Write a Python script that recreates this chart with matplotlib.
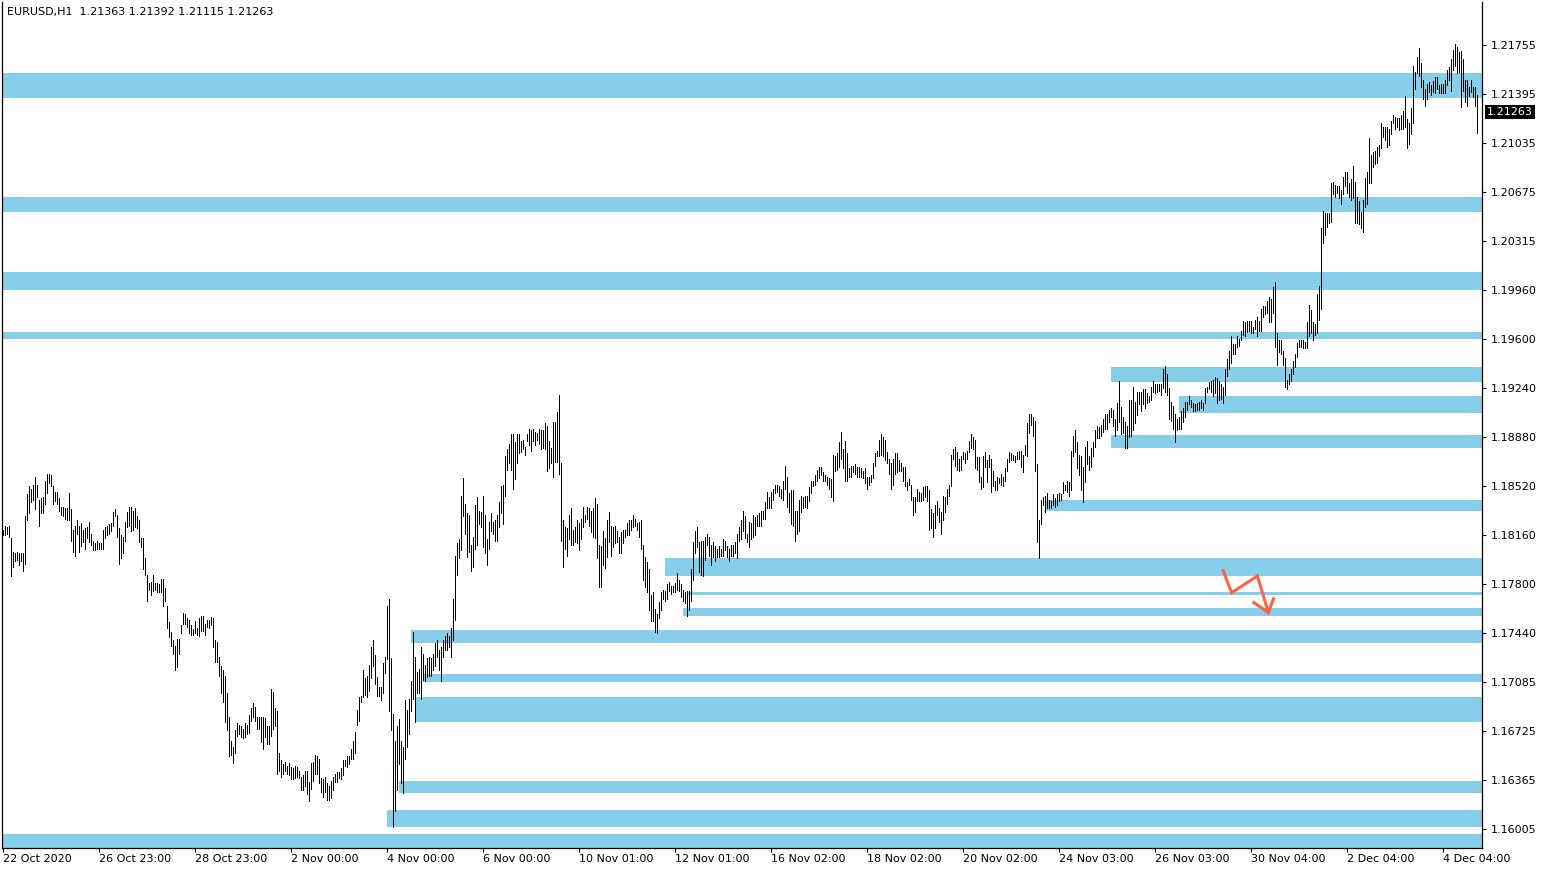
import numpy as np
import matplotlib
matplotlib.use("Agg")
import matplotlib.pyplot as plt
from matplotlib import transforms

# ---------------- data ----------------
symbol = "EURUSD,H1"
last_ohlc = [1.21363, 1.21392, 1.21115, 1.21263]

# H1 bars: highs and lows (oldest -> newest)
highs = [
    1.1820, 1.1823, 1.1822, 1.1823, 1.1814, 1.1804, 1.1803, 1.1804, 1.1803, 1.1803,
    1.1803, 1.1830, 1.1846, 1.1852, 1.1850, 1.1853, 1.1859, 1.1853, 1.1842, 1.1843,
    1.1844, 1.1856, 1.1861, 1.1861, 1.1860, 1.1852, 1.1848, 1.1848, 1.1843, 1.1837,
    1.1837, 1.1836, 1.1836, 1.1847, 1.1835, 1.1820, 1.1823, 1.1827, 1.1823, 1.1825,
    1.1820, 1.1821, 1.1822, 1.1826, 1.1817, 1.1812, 1.1810, 1.1812, 1.1810, 1.1810,
    1.1820, 1.1822, 1.1823, 1.1824, 1.1825, 1.1833, 1.1835, 1.1831, 1.1821, 1.1816,
    1.1815, 1.1826, 1.1833, 1.1837, 1.1837, 1.1834, 1.1836, 1.1830, 1.1827, 1.1814,
    1.1814, 1.1799, 1.1787, 1.1781, 1.1782, 1.1787, 1.1781, 1.1781, 1.1780, 1.1784,
    1.1784, 1.1777, 1.1764, 1.1752, 1.1745, 1.1739, 1.1735, 1.1740, 1.1740, 1.1750,
    1.1759, 1.1758, 1.1755, 1.1754,
    1.1750, 1.1747, 1.1753, 1.1748, 1.1755, 1.1757,
    1.1757, 1.1751, 1.1754, 1.1754, 1.1756, 1.1755, 1.1739, 1.1738, 1.1727, 1.1720,
    1.1717, 1.1713, 1.1700, 1.1683, 1.1665, 1.1661, 1.1673, 1.1678, 1.1677, 1.1676,
    1.1674, 1.1678, 1.1677, 1.1684, 1.1689, 1.1693, 1.1690, 1.1683, 1.1683, 1.1683,
    1.1683, 1.1682, 1.1676, 1.1676, 1.1703, 1.1701, 1.1689, 1.1687, 1.1656, 1.1651,
    1.1648, 1.1650, 1.1647, 1.1649, 1.1646, 1.1645, 1.1647, 1.1646, 1.1643, 1.1639,
    1.1640, 1.1643, 1.1643, 1.1635, 1.1649, 1.1650, 1.1655, 1.1654, 1.1652, 1.1638,
    1.1637, 1.1639, 1.1634, 1.1632, 1.1636, 1.1639, 1.1641, 1.1642, 1.1642, 1.1645,
    1.1651, 1.1651, 1.1654, 1.1654, 1.1659, 1.1665, 1.1672, 1.1688, 1.1697, 1.1698,
    1.1717, 1.1711, 1.1713, 1.1721, 1.1734, 1.1739,
    1.1728, 1.1712, 1.1705, 1.1705,
    1.1722, 1.1727, 1.1764, 1.1769, 1.1726, 1.1685, 1.1665, 1.1676, 1.1681, 1.1665,
    1.1661, 1.1695, 1.1688, 1.1696, 1.1709, 1.1745, 1.1727, 1.1716, 1.1718, 1.1734,
    1.1729, 1.1721, 1.1726, 1.1727, 1.1726, 1.1729, 1.1737, 1.1739, 1.1732, 1.1734,
    1.1739, 1.1742, 1.1744, 1.1742, 1.1748, 1.1769, 1.1801, 1.1810, 1.1813, 1.1845,
    1.1858, 1.1839, 1.1832, 1.1831, 1.1809, 1.1815, 1.1838, 1.1844, 1.1834, 1.1833,
    1.1845, 1.1831, 1.1813, 1.1826, 1.1832, 1.1826, 1.1827, 1.1831, 1.1840, 1.1852,
    1.1853, 1.1874, 1.1879, 1.1883, 1.1890, 1.1890, 1.1884, 1.1890, 1.1890, 1.1885,
    1.1886, 1.1881, 1.1890, 1.1894, 1.1893, 1.1894, 1.1892, 1.1891, 1.1894, 1.1893,
    1.1893, 1.1898, 1.1896, 1.1885, 1.1880, 1.1899, 1.1899, 1.1906, 1.1919,
    1.1869,
    1.1827, 1.1822, 1.1821, 1.1831, 1.1836, 1.1820, 1.1822, 1.1827, 1.1825, 1.1828,
    1.1837, 1.1831, 1.1837, 1.1836, 1.1834, 1.1836, 1.1843, 1.1839, 1.1809, 1.1808,
    1.1819, 1.1814, 1.1827, 1.1833, 1.1823, 1.1822, 1.1823, 1.1819, 1.1815, 1.1818,
    1.1820, 1.1820, 1.1825, 1.1827, 1.1827, 1.1831, 1.1828, 1.1825, 1.1826, 1.1827,
    1.1809, 1.1800, 1.1796, 1.1791, 1.1772, 1.1774, 1.1762, 1.1758, 1.1767, 1.1774,
    1.1776, 1.1775, 1.1780, 1.1782, 1.1779, 1.1779, 1.1781, 1.1788, 1.1783, 1.1780,
    1.1776, 1.1774, 1.1775, 1.1775, 1.1791, 1.1811, 1.1819, 1.1822, 1.1811, 1.1812,
    1.1812, 1.1815, 1.1817, 1.1815, 1.1809, 1.1811, 1.1808, 1.1806, 1.1808, 1.1806,
    1.1813, 1.1812, 1.1808, 1.1806, 1.1809, 1.1809, 1.1811, 1.1817, 1.1822, 1.1827,
    1.1834,
    1.1830, 1.1817, 1.1826, 1.1825, 1.1831, 1.1829, 1.1831, 1.1832, 1.1834,
    1.1834, 1.1840, 1.1848, 1.1844, 1.1848, 1.1850, 1.1853, 1.1853, 1.1852, 1.1850,
    1.1856, 1.1867, 1.1859, 1.1847, 1.1849, 1.1849, 1.1834, 1.1834, 1.1842, 1.1845,
    1.1844, 1.1845, 1.1845, 1.1851, 1.1856, 1.1856, 1.1860, 1.1864, 1.1866, 1.1866,
    1.1862, 1.1860, 1.1859, 1.1858, 1.1857, 1.1875, 1.1874, 1.1876, 1.1884, 1.1892,
    1.1879, 1.1885, 1.1876, 1.1865, 1.1867, 1.1867, 1.1868, 1.1866, 1.1866, 1.1865,
    1.1863, 1.1865, 1.1859, 1.1859, 1.1860, 1.1869, 1.1876, 1.1878, 1.1886, 1.1890,
    1.1888, 1.1886, 1.1877, 1.1872, 1.1869, 1.1872, 1.1876, 1.1876, 1.1871, 1.1869,
    1.1866, 1.1866, 1.1855, 1.1857, 1.1853, 1.1844, 1.1844, 1.1850, 1.1848, 1.1847, 1.1851,
    1.1852, 1.1852, 1.1849, 1.1835, 1.1832, 1.1838, 1.1841, 1.1836, 1.1833,
    1.1845, 1.1844, 1.1850, 1.1853, 1.1875, 1.1879, 1.1881, 1.1877, 1.1872, 1.1874,
    1.1877, 1.1876, 1.1878, 1.1885, 1.1890, 1.1888, 1.1886, 1.1873, 1.1873, 1.1859,
    1.1874, 1.1877, 1.1871, 1.1875, 1.1872, 1.1863, 1.1856, 1.1859, 1.1858, 1.1861,
    1.1859, 1.1865, 1.1872, 1.1877, 1.1876, 1.1875, 1.1874, 1.1877, 1.1878, 1.1878,
    1.1875, 1.1882, 1.1898, 1.1905, 1.1905, 1.1903, 1.1900, 1.1868, 1.1827, 1.1842,
    1.1844, 1.1845, 1.1847, 1.1842, 1.1841, 1.1846, 1.1843, 1.1846, 1.1847, 1.1846,
    1.1855, 1.1853, 1.1856, 1.1855, 1.1878, 1.1889, 1.1893, 1.1884, 1.1875, 1.1874,
    1.1866, 1.1881, 1.1885, 1.1874, 1.1880, 1.1884, 1.1893, 1.1896, 1.1895, 1.1897,
    1.1901, 1.1905, 1.1905, 1.1908,
    1.1909, 1.1908, 1.1901, 1.1913, 1.1929, 1.1910,
    1.1903, 1.1899, 1.1896, 1.1915, 1.1915, 1.1925, 1.1914, 1.1921, 1.1921, 1.1921,
    1.1923, 1.1923, 1.1920, 1.1918, 1.1925, 1.1929, 1.1927, 1.1927, 1.1927, 1.1927,
    1.1938, 1.1940, 1.1934, 1.1924, 1.1914, 1.1911, 1.1905, 1.1901, 1.1903, 1.1907,
    1.1909, 1.1914, 1.1914, 1.1918, 1.1915, 1.1913, 1.1912, 1.1913, 1.1914, 1.1915,
    1.1913, 1.1924, 1.1925, 1.1928, 1.1929, 1.1930, 1.1932, 1.1931, 1.1929, 1.1927,
    1.1925, 1.1938, 1.1945, 1.1951, 1.1962, 1.1956, 1.1956, 1.1962, 1.1960, 1.1966,
    1.1973, 1.1972, 1.1973, 1.1973, 1.1973, 1.1969, 1.1974, 1.1976, 1.1973, 1.1982,
    1.1984, 1.1984, 1.1988, 1.1991, 1.1989, 1.1998, 1.2002, 1.1964, 1.1959, 1.1959,
    1.1951, 1.1946, 1.1930, 1.1934, 1.1938, 1.1944,
    1.1949, 1.1957, 1.1959, 1.1959,
    1.1959, 1.1958, 1.1972, 1.1985, 1.1981, 1.1972, 1.1971, 1.1993, 1.1999, 1.2041,
    1.2054, 1.2052, 1.2052, 1.2052, 1.2074, 1.2075, 1.2073, 1.2072, 1.2072, 1.2069,
    1.2079, 1.2082, 1.2082, 1.2074, 1.2077, 1.2087, 1.2075, 1.2064, 1.2061, 1.2053,
    1.2062, 1.2078, 1.2082, 1.2107, 1.2095, 1.2097, 1.2098, 1.2101, 1.2102, 1.2118,
    1.2115, 1.2115, 1.2115, 1.2114, 1.2120, 1.2124, 1.2123, 1.2122, 1.2122, 1.2124,
    1.2127, 1.2138, 1.2121, 1.2118, 1.2129, 1.2160, 1.2156, 1.2167, 1.2173, 1.2162,
    1.2150, 1.2143, 1.2147, 1.2148, 1.2146, 1.2149, 1.2152, 1.2152, 1.2146, 1.2147,
    1.2147, 1.2150, 1.2157, 1.2159, 1.2165, 1.2172, 1.2176, 1.2174, 1.2170, 1.2171,
    1.2165, 1.2150, 1.2150, 1.2145, 1.2150, 1.2145, 1.2145, 1.2139,
]

lows = [
    1.1816, 1.1816, 1.1817, 1.1815, 1.1786, 1.1793, 1.1797, 1.1798, 1.1794, 1.1797,
    1.1790, 1.1795, 1.1827, 1.1832, 1.1840, 1.1842, 1.1835, 1.1844, 1.1823, 1.1832,
    1.1832, 1.1839, 1.1847, 1.1854, 1.1852, 1.1839, 1.1841, 1.1839, 1.1834, 1.1831,
    1.1830, 1.1828, 1.1827, 1.1827, 1.1812, 1.1804, 1.1801, 1.1817, 1.1804, 1.1808,
    1.1811, 1.1806, 1.1814, 1.1811, 1.1809, 1.1805, 1.1805, 1.1806, 1.1806, 1.1806,
    1.1806, 1.1814, 1.1816, 1.1817, 1.1819, 1.1823, 1.1830, 1.1815, 1.1795, 1.1799,
    1.1803, 1.1812, 1.1822, 1.1823, 1.1819, 1.1820, 1.1822, 1.1821, 1.1811, 1.1807,
    1.1791, 1.1787, 1.1768, 1.1776, 1.1772, 1.1775, 1.1776, 1.1774, 1.1774, 1.1774,
    1.1764, 1.1768, 1.1748, 1.1741, 1.1735, 1.1729, 1.1717, 1.1719, 1.1729, 1.1744,
    1.1751, 1.1751, 1.1749, 1.1744,
    1.1743, 1.1743, 1.1744, 1.1743, 1.1742, 1.1746,
    1.1746, 1.1743, 1.1749, 1.1748, 1.1750, 1.1734, 1.1723, 1.1723, 1.1713, 1.1700,
    1.1694, 1.1679, 1.1673, 1.1654, 1.1655, 1.1649, 1.1656, 1.1669, 1.1670, 1.1668,
    1.1667, 1.1668, 1.1670, 1.1671, 1.1680, 1.1683, 1.1680, 1.1674, 1.1674, 1.1664,
    1.1659, 1.1668, 1.1663, 1.1663, 1.1669, 1.1674, 1.1676, 1.1641, 1.1643, 1.1639,
    1.1641, 1.1643, 1.1641, 1.1640, 1.1637, 1.1637, 1.1638, 1.1639, 1.1638, 1.1629,
    1.1629, 1.1632, 1.1626, 1.1621, 1.1630, 1.1636, 1.1641, 1.1641, 1.1634, 1.1628,
    1.1624, 1.1628, 1.1622, 1.1622, 1.1623, 1.1629, 1.1635, 1.1635, 1.1638, 1.1637,
    1.1640, 1.1647, 1.1646, 1.1648, 1.1652, 1.1652, 1.1656, 1.1677, 1.1680, 1.1694,
    1.1697, 1.1699, 1.1697, 1.1702, 1.1711, 1.1720,
    1.1707, 1.1698, 1.1698, 1.1695,
    1.1700, 1.1715, 1.1725, 1.1687, 1.1673, 1.1602, 1.1614, 1.1629, 1.1648, 1.1634,
    1.1627, 1.1652, 1.1661, 1.1670, 1.1687, 1.1696, 1.1679, 1.1700, 1.1700, 1.1696,
    1.1710, 1.1709, 1.1712, 1.1713, 1.1713, 1.1717, 1.1720, 1.1727, 1.1717, 1.1709,
    1.1727, 1.1732, 1.1732, 1.1734, 1.1727, 1.1739, 1.1754, 1.1787, 1.1799, 1.1805,
    1.1830, 1.1817, 1.1800, 1.1804, 1.1790, 1.1793, 1.1806, 1.1809, 1.1824, 1.1822,
    1.1807, 1.1803, 1.1794, 1.1806, 1.1819, 1.1817, 1.1812, 1.1812, 1.1822, 1.1832,
    1.1824, 1.1845, 1.1864, 1.1869, 1.1864, 1.1850, 1.1857, 1.1869, 1.1876, 1.1877,
    1.1879, 1.1875, 1.1885, 1.1882, 1.1878, 1.1885, 1.1882, 1.1886, 1.1883, 1.1879,
    1.1880, 1.1879, 1.1863, 1.1865, 1.1869, 1.1859, 1.1870, 1.1870, 1.1861,
    1.1812,
    1.1793, 1.1806, 1.1801, 1.1813, 1.1809, 1.1809, 1.1811, 1.1810, 1.1805, 1.1813,
    1.1822, 1.1826, 1.1828, 1.1823, 1.1818, 1.1815, 1.1814, 1.1799, 1.1778, 1.1778,
    1.1794, 1.1792, 1.1800, 1.1811, 1.1801, 1.1807, 1.1810, 1.1811, 1.1803, 1.1803,
    1.1810, 1.1815, 1.1816, 1.1816, 1.1820, 1.1822, 1.1823, 1.1820, 1.1815, 1.1806,
    1.1783, 1.1778, 1.1774, 1.1761, 1.1753, 1.1753, 1.1745, 1.1744, 1.1755, 1.1761,
    1.1769, 1.1768, 1.1769, 1.1775, 1.1773, 1.1774, 1.1774, 1.1776, 1.1775, 1.1771,
    1.1768, 1.1766, 1.1757, 1.1761, 1.1768, 1.1783, 1.1803, 1.1807, 1.1789, 1.1787,
    1.1786, 1.1798, 1.1809, 1.1801, 1.1794, 1.1800, 1.1797, 1.1800, 1.1800, 1.1801,
    1.1801, 1.1805, 1.1800, 1.1797, 1.1801, 1.1801, 1.1803, 1.1799, 1.1812, 1.1813,
    1.1819,
    1.1814, 1.1811, 1.1807, 1.1813, 1.1815, 1.1816, 1.1823, 1.1823, 1.1823,
    1.1828, 1.1828, 1.1836, 1.1836, 1.1836, 1.1842, 1.1847, 1.1848, 1.1845, 1.1843,
    1.1842, 1.1850, 1.1837, 1.1833, 1.1824, 1.1823, 1.1812, 1.1817, 1.1819, 1.1833,
    1.1836, 1.1837, 1.1836, 1.1841, 1.1847, 1.1852, 1.1853, 1.1856, 1.1858, 1.1860,
    1.1856, 1.1856, 1.1853, 1.1850, 1.1844, 1.1841, 1.1863, 1.1864, 1.1866, 1.1872,
    1.1865, 1.1856, 1.1856, 1.1859, 1.1859, 1.1862, 1.1861, 1.1859, 1.1859, 1.1859,
    1.1858, 1.1854, 1.1850, 1.1853, 1.1855, 1.1858, 1.1867, 1.1874, 1.1874, 1.1875,
    1.1874, 1.1871, 1.1869, 1.1861, 1.1850, 1.1853, 1.1861, 1.1862, 1.1863, 1.1863,
    1.1856, 1.1852, 1.1849, 1.1853, 1.1842, 1.1831, 1.1833, 1.1841, 1.1841, 1.1841, 1.1842,
    1.1844, 1.1841, 1.1820, 1.1821, 1.1815, 1.1821, 1.1831, 1.1826, 1.1817,
    1.1827, 1.1833, 1.1839, 1.1845, 1.1852, 1.1872, 1.1867, 1.1864, 1.1863, 1.1864,
    1.1872, 1.1869, 1.1872, 1.1877, 1.1880, 1.1879, 1.1865, 1.1864, 1.1855, 1.1850,
    1.1851, 1.1866, 1.1855, 1.1866, 1.1848, 1.1852, 1.1849, 1.1849, 1.1854, 1.1853,
    1.1852, 1.1856, 1.1863, 1.1870, 1.1871, 1.1871, 1.1870, 1.1872, 1.1872, 1.1866,
    1.1862, 1.1875, 1.1874, 1.1891, 1.1897, 1.1889, 1.1863, 1.1811, 1.1799, 1.1824,
    1.1838, 1.1833, 1.1836, 1.1836, 1.1836, 1.1838, 1.1837, 1.1838, 1.1841, 1.1842,
    1.1847, 1.1849, 1.1848, 1.1845, 1.1849, 1.1874, 1.1877, 1.1865, 1.1860, 1.1849,
    1.1840, 1.1855, 1.1868, 1.1864, 1.1866, 1.1874, 1.1881, 1.1887, 1.1887, 1.1889,
    1.1892, 1.1894, 1.1894, 1.1899,
    1.1903, 1.1896, 1.1889, 1.1893, 1.1899, 1.1890,
    1.1891, 1.1880, 1.1880, 1.1888, 1.1889, 1.1893, 1.1898, 1.1904, 1.1912, 1.1907,
    1.1912, 1.1909, 1.1913, 1.1914, 1.1915, 1.1921, 1.1920, 1.1921, 1.1922, 1.1919,
    1.1924, 1.1921, 1.1919, 1.1901, 1.1900, 1.1894, 1.1884, 1.1893, 1.1894, 1.1894,
    1.1899, 1.1903, 1.1908, 1.1912, 1.1910, 1.1907, 1.1907, 1.1908, 1.1908, 1.1909,
    1.1908, 1.1913, 1.1921, 1.1923, 1.1921, 1.1918, 1.1920, 1.1913, 1.1915, 1.1916,
    1.1913, 1.1919, 1.1933, 1.1938, 1.1942, 1.1949, 1.1949, 1.1954, 1.1955, 1.1959,
    1.1963, 1.1962, 1.1965, 1.1966, 1.1964, 1.1964, 1.1967, 1.1962, 1.1966, 1.1966,
    1.1976, 1.1978, 1.1979, 1.1972, 1.1972, 1.1979, 1.1954, 1.1941, 1.1950, 1.1949,
    1.1941, 1.1925, 1.1923, 1.1927, 1.1929, 1.1934,
    1.1939, 1.1947, 1.1954, 1.1954,
    1.1953, 1.1953, 1.1953, 1.1962, 1.1964, 1.1959, 1.1963, 1.1964, 1.1974, 1.1982,
    1.2030, 1.2036, 1.2042, 1.2045, 1.2046, 1.2066, 1.2064, 1.2067, 1.2063, 1.2059,
    1.2066, 1.2072, 1.2067, 1.2064, 1.2062, 1.2063, 1.2045, 1.2045, 1.2044, 1.2041,
    1.2038, 1.2057, 1.2059, 1.2074, 1.2074, 1.2086, 1.2088, 1.2089, 1.2094, 1.2100,
    1.2108, 1.2106, 1.2101, 1.2102, 1.2110, 1.2118, 1.2114, 1.2115, 1.2113, 1.2114,
    1.2114, 1.2115, 1.2100, 1.2103, 1.2110, 1.2118, 1.2143, 1.2155, 1.2153, 1.2145,
    1.2136, 1.2131, 1.2136, 1.2141, 1.2139, 1.2141, 1.2140, 1.2143, 1.2140, 1.2140,
    1.2140, 1.2140, 1.2146, 1.2150, 1.2142, 1.2157, 1.2160, 1.2155, 1.2156, 1.2130,
    1.2142, 1.2134, 1.2131, 1.2138, 1.2141, 1.2137, 1.2131, 1.2111,
]

# time axis labels, one every 48 H1 bars
time_labels = ["22 Oct 2020", "26 Oct 23:00", "28 Oct 23:00", "2 Nov 00:00",
               "4 Nov 00:00", "6 Nov 00:00", "10 Nov 01:00", "12 Nov 01:00",
               "16 Nov 02:00", "18 Nov 02:00", "20 Nov 02:00", "24 Nov 03:00",
               "26 Nov 03:00", "30 Nov 04:00", "2 Dec 04:00", "4 Dec 04:00"]
bars_per_label = 48

price_ticks = [1.21755, 1.21395, 1.21035, 1.20675, 1.20315, 1.19960, 1.19600,
               1.19240, 1.18880, 1.18520, 1.18160, 1.17800, 1.17440, 1.17085,
               1.16725, 1.16365, 1.16005]

# supply / demand zones: starting bar, low price, high price (extend to the right edge)
zone_start = [-0.5, -0.5, -0.5, -0.5, 554, 588, 554, 521, 331, 342, 340,
              204, 210, 206, 198, 192, -0.5]
zone_low = [1.21368, 1.20532, 1.19958, 1.19599, 1.19286, 1.19058, 1.18802,
            1.18340, 1.17861, 1.17722, 1.17569, 1.17372, 1.17085, 1.16792,
            1.16271, 1.16022, 1.15860]
zone_high = [1.21550, 1.20642, 1.20092, 1.19652, 1.19396, 1.19181, 1.18895,
             1.18418, 1.17995, 1.17740, 1.17626, 1.17465, 1.17142, 1.16975,
             1.16359, 1.16145, 1.15968]

# hand-drawn red arrow (bar index, price)
arrow_x = [609.8, 614.3, 627.2, 632.7]
arrow_y = [1.17910, 1.17738, 1.17861, 1.17592]
arrow_head_x = [624.8, 632.7, 635.5]
arrow_head_y = [1.17672, 1.17592, 1.17704]

# ---------------- drawing ----------------
W, H = 1546, 872
FONT = 8.0
fig = plt.figure(figsize=(W / 100, H / 100), dpi=100)
fig.patch.set_facecolor("white")
ax = fig.add_axes([2 / W, 24 / H, 1480 / W, 846 / H])
ax.set_facecolor("white")

n = min(len(highs), len(lows))
idx = np.arange(n)
x_max = 739.5
ax.set_xlim(-0.5, x_max)
ax.set_ylim(1.15866, 1.22070)

for s, lo, hi in zip(zone_start, zone_low, zone_high):
    ax.fill_between([s, x_max], lo, hi, color="#87CEEB", lw=0, zorder=1,
                    antialiased=False)

ax.vlines(idx, lows[:n], highs[:n], colors="black", linewidth=0.5,
          antialiased=False, zorder=2)

ax.plot(arrow_x, arrow_y, color="#FF6347", lw=2.2, solid_joinstyle="miter",
        solid_capstyle="butt", zorder=3)
ax.plot(arrow_head_x, arrow_head_y, color="#FF6347", lw=2.2,
        solid_joinstyle="miter", solid_capstyle="butt", zorder=3)

# spines
ax.spines["top"].set_visible(False)
for side in ("left", "right", "bottom"):
    ax.spines[side].set_color("black")
    ax.spines[side].set_linewidth(0.9)

# price axis on the right
ax.yaxis.tick_right()
ax.set_yticks(price_ticks)
ax.set_yticklabels([f"{v:.5f}" for v in price_ticks])
ax.tick_params(axis="y", direction="out", length=3, width=0.8, pad=3,
               labelsize=FONT, colors="black")

# time axis
ax.set_xticks(np.arange(len(time_labels)) * bars_per_label)
ax.set_xticklabels(time_labels)
for lab in ax.get_xticklabels():
    lab.set_ha("left")
ax.tick_params(axis="x", direction="out", length=3, width=0.8, pad=1.5,
               labelsize=FONT, colors="black")

# header text
o, h, l, c = last_ohlc
fig.text(7 / W, 1 - 12 / H, f"{symbol}  {o:.5f} {h:.5f} {l:.5f} {c:.5f}",
         ha="left", va="center", fontsize=FONT, color="black")

# current price marker
blend = transforms.blended_transform_factory(ax.transAxes, ax.transData)
off = transforms.offset_copy(blend, fig=fig, x=5, y=0, units="dots")
ax.text(1.0, c, f"{c:.5f}", transform=off, ha="left", va="center",
        fontsize=FONT, color="white", clip_on=False,
        bbox=dict(boxstyle="square,pad=0.2", fc="black", ec="none"))

fig.savefig("out.png", dpi=100, facecolor="white")
